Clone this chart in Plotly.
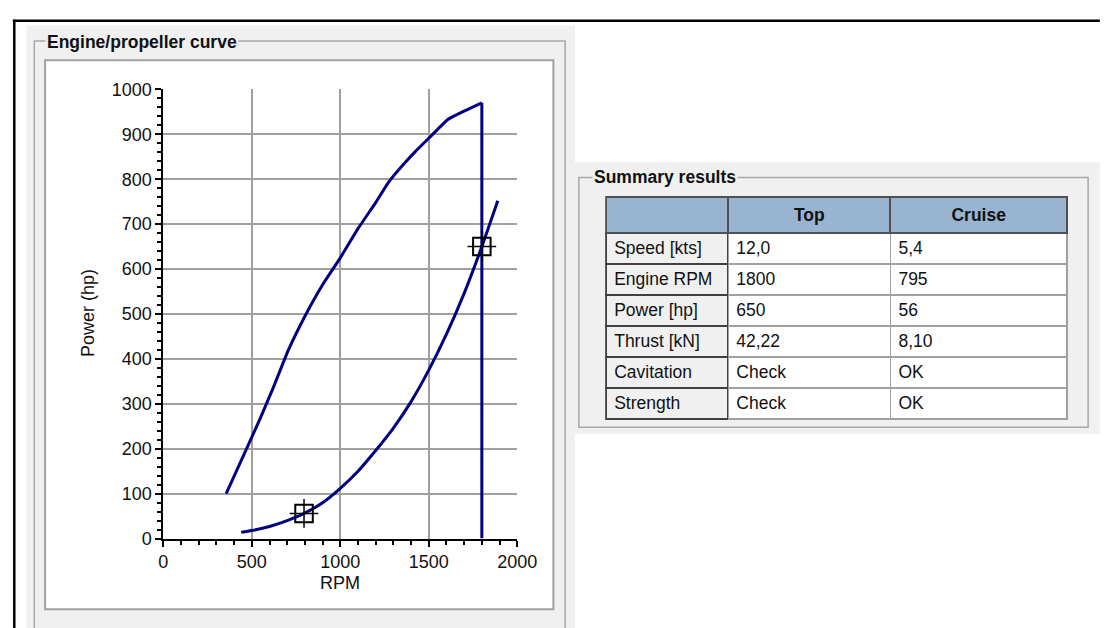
import plotly.graph_objects as go

# ---- data -------------------------------------------------------------
# engine maximum power curve (ends with the drop at rated RPM)
engine_curve_rpm = [355, 470, 550, 620, 707, 800, 900, 1000, 1100, 1200, 1276, 1350, 1425, 1497, 1608, 1702, 1800, 1800]
engine_curve_hp = [100, 200, 270, 335, 420, 495, 565, 625, 690, 748, 795, 830, 862, 890, 933, 952, 970, 0]

# propeller demand curve
prop_curve_rpm = [440, 500, 600, 700, 795, 900, 1000, 1100, 1200, 1300, 1400, 1500, 1600, 1700, 1800, 1890]
prop_curve_hp = [14, 18, 27, 40, 56, 80, 112, 150, 196, 246, 305, 375, 455, 546, 650, 752]

# summary results: [Top, Cruise]
conditions = ["Top", "Cruise"]
speed_kts = [12.0, 5.4]
engine_rpm = [1800, 795]
power_hp = [650, 56]
thrust_kn = [42.22, 8.10]
cavitation = ["Check", "OK"]
strength = ["Check", "OK"]
row_labels = ["Speed [kts]", "Engine RPM", "Power [hp]", "Thrust [kN]", "Cavitation", "Strength"]

x_ticks = [0, 500, 1000, 1500, 2000]
y_ticks = [0, 100, 200, 300, 400, 500, 600, 700, 800, 900, 1000]

# ---- helpers ------------------------------------------------------------
W, H = 1113, 628
FONT = "Liberation Sans, Arial, sans-serif"
NAVY = "#000080"
PANEL = "#f0f0f0"
EDGE = "#a8a8a8"


def fx(p):
    return p / W


def fy(p):
    return 1 - p / H


def comma(v, nd):
    return f"{v:.{nd}f}".replace(".", ",")


fig = go.Figure()

# ---- curves -------------------------------------------------------------
# rising part of the engine curve, smoothed
fig.add_trace(go.Scatter(x=engine_curve_rpm[:-1], y=engine_curve_hp[:-1], mode="lines",
                         line=dict(color=NAVY, width=3, shape="spline", smoothing=0.4),
                         hoverinfo="skip"))
# vertical drop at rated RPM
fig.add_trace(go.Scatter(x=engine_curve_rpm[-2:], y=engine_curve_hp[-2:], mode="lines",
                         line=dict(color=NAVY, width=3), hoverinfo="skip"))
fig.add_trace(go.Scatter(x=prop_curve_rpm, y=prop_curve_hp, mode="lines",
                         line=dict(color=NAVY, width=3, shape="spline", smoothing=0.6),
                         hoverinfo="skip"))

# operating points (top speed and cruise)
fig.add_trace(go.Scatter(x=engine_rpm, y=power_hp, mode="markers",
                         marker=dict(symbol="square-open", size=17.5, color="black",
                                     line=dict(color="black", width=2)),
                         hoverinfo="skip"))
fig.add_trace(go.Scatter(x=engine_rpm, y=power_hp, mode="markers",
                         marker=dict(symbol="cross-thin-open", size=20.5, color="black",
                                     line=dict(color="black", width=1.5)),
                         hoverinfo="skip"))

# ---- summary table ------------------------------------------------------
top_col = [comma(speed_kts[0], 1), str(engine_rpm[0]), str(power_hp[0]),
           comma(thrust_kn[0], 2), cavitation[0], strength[0]]
cruise_col = [comma(speed_kts[1], 1), str(engine_rpm[1]), str(power_hp[1]),
              comma(thrust_kn[1], 2), cavitation[1], strength[1]]

fig.add_trace(go.Table(
    domain=dict(x=[fx(615), fx(1087)], y=[fy(427), fy(193)]),
    columnwidth=[125, 166, 181],
    header=dict(values=[""] + [f"<b>{c}</b>" for c in conditions],
                fill_color="#99b4d1", align="center", height=35,
                line=dict(color="#505050", width=2),
                font=dict(family=FONT, size=17.5, color="#111111")),
    cells=dict(values=[row_labels, top_col, cruise_col],
               fill_color=[PANEL, "white", "white"], align="left", height=31,
               line=dict(color=["#404040", "#a0a0a0", "#a0a0a0"], width=[2, 1.5, 1.5]),
               font=dict(family=FONT, size=17.5, color="#111111")),
))

# ---- panels, group boxes and frame --------------------------------------
shapes = [
    # left panel
    dict(type="rect", xref="paper", yref="paper", x0=fx(22), x1=fx(583), y0=fy(640), y1=fy(16),
         fillcolor=PANEL, line=dict(width=0), layer="below"),
    dict(type="rect", xref="paper", yref="paper", x0=fx(30), x1=fx(573), y0=fy(650), y1=fy(32),
         line=dict(color=EDGE, width=1.5), layer="below"),
    dict(type="rect", xref="paper", yref="paper", x0=fx(41), x1=fx(561), y0=fy(619), y1=fy(52),
         fillcolor="white", line=dict(color="#a0a0a0", width=2), layer="below"),
    # right panel
    dict(type="rect", xref="paper", yref="paper", x0=fx(583), x1=fx(1120), y0=fy(438), y1=fy(157),
         fillcolor=PANEL, line=dict(width=0), layer="below"),
    dict(type="rect", xref="paper", yref="paper", x0=fx(587), x1=fx(1108), y0=fy(431), y1=fy(173),
         line=dict(color=EDGE, width=1.5), layer="below"),
    # outer window frame
    dict(type="line", xref="paper", yref="paper", x0=fx(8), x1=fx(1120), y0=fy(11), y1=fy(11),
         line=dict(color="black", width=2.5), layer="below"),
    dict(type="line", xref="paper", yref="paper", x0=fx(9.5), x1=fx(9.5), y0=fy(10), y1=fy(640),
         line=dict(color="black", width=2.5), layer="below"),
]

annotations = [
    dict(text="<b>Engine/propeller curve</b>", xref="paper", yref="paper", x=fx(41), y=fy(33),
         xanchor="left", yanchor="middle", showarrow=False, bgcolor=PANEL,
         font=dict(family=FONT, size=17.5, color="#111111")),
    dict(text="<b>Summary results</b>", xref="paper", yref="paper", x=fx(600), y=fy(173),
         xanchor="left", yanchor="middle", showarrow=False, bgcolor=PANEL,
         font=dict(family=FONT, size=17.5, color="#111111")),
    dict(text="Power (hp)", xref="paper", yref="paper", x=fx(85), y=fy(313), textangle=-90,
         xanchor="center", yanchor="middle", showarrow=False,
         font=dict(family=FONT, size=18, color="#111111")),
    dict(text="RPM", xref="paper", yref="paper", x=fx(343), y=fy(592),
         xanchor="center", yanchor="middle", showarrow=False,
         font=dict(family=FONT, size=18, color="#111111")),
]

axis_common = dict(
    showgrid=True, gridcolor="#a0a0a0", gridwidth=1.5,
    showline=True, linecolor="black", linewidth=2, zeroline=False,
    ticks="outside", ticklen=6, tickwidth=1.5, tickcolor="black",
    tickfont=dict(family=FONT, size=18, color="#111111"),
    fixedrange=True,
)

fig.update_layout(
    width=W, height=H,
    margin=dict(l=0, r=0, t=0, b=0),
    paper_bgcolor="white", plot_bgcolor="rgba(0,0,0,0)",
    showlegend=False,
    shapes=shapes, annotations=annotations,
    xaxis=dict(domain=[fx(162), fx(524)], range=[0, 2000], tickvals=x_ticks,
               minor=dict(dtick=100, tick0=0, ticks="outside", ticklen=4, tickwidth=1.5,
                          tickcolor="black", showgrid=False),
               **axis_common),
    yaxis=dict(domain=[fy(546), fy(82)], range=[0, 1000], tickvals=y_ticks,
               minor=dict(dtick=20, tick0=0, ticks="outside", ticklen=4, tickwidth=1.5,
                          tickcolor="black", showgrid=False),
               **axis_common),
)

fig.write_html("out.html", config={"displayModeBar": False})
